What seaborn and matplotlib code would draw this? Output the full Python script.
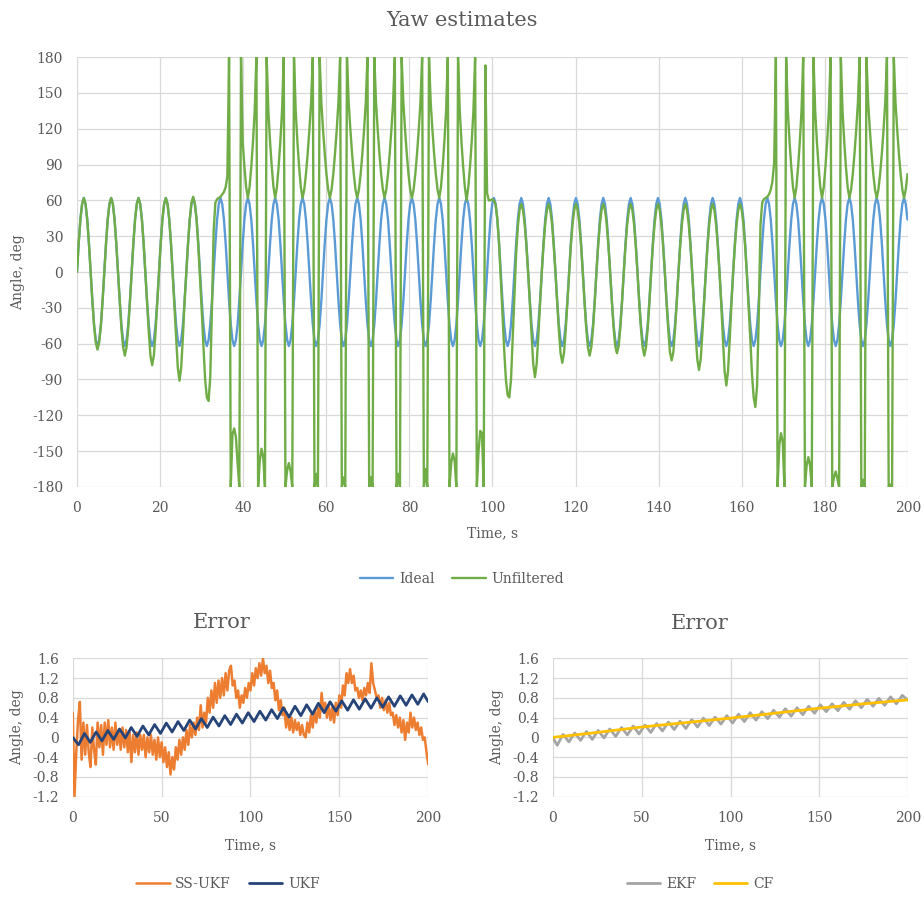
import numpy as np
import matplotlib
matplotlib.use("Agg")
import matplotlib.pyplot as plt
import seaborn as sns

# -------------------------------
# Data
# -------------------------------
period = 6.58            # s, one yaw oscillation
step = period / 16       # 16 samples per oscillation

# ideal yaw, one oscillation (deg)
ideal_cycle = [0, 24, 44, 57, 62, 57, 44, 24, 0, -24, -44, -57, -62, -57, -44, -24]

# unfiltered yaw, one row per oscillation (deg), wrapped to +-180
unfiltered_rows = [
    [0, 24, 44, 57, 62, 57, 44, 24, 0, -24, -45, -59, -65, -59, -45, -24],
    [0, 24, 44, 57, 62, 57, 44, 24, 0, -25, -47, -63, -70, -63, -47, -25],
    [0, 24, 44, 57, 62, 57, 44, 24, 0, -25, -50, -70, -78, -70, -50, -25],
    [0, 24, 44, 57, 62, 57, 44, 24, -2, -28, -55, -80, -91, -80, -54, -24],
    [0, 24, 44, 58, 63, 57, 44, 22, -5, -32, -62, -90, -105, -108, -88, -30],
    [35, 58, 61, 62, 63, 65, 67, 71, 80, 180, -180, -136, -131, -138, -160, -180],
    [180, 109, 88, 71, 62, 71, 88, 109, 135, 180, -180, -158, -148, -155, -180, 180],
    [135, 109, 88, 71, 62, 71, 88, 109, 135, 180, -180, -166, -160, -167, -180, 180],
    [135, 109, 88, 71, 62, 69, 82, 99, 119, 142, 180, -180, -169, -180, 180, 142],
    [119, 99, 82, 69, 62, 69, 82, 99, 119, 142, 180, -180, -172, -180, 180, 142],
    [119, 99, 82, 69, 62, 69, 82, 99, 119, 142, 180, -180, -172, -180, 180, 142],
    [119, 99, 82, 69, 62, 69, 82, 99, 119, 142, 180, -180, -169, -180, 180, 142],
    [119, 99, 82, 69, 62, 69, 82, 99, 119, 142, 180, -180, -165, -180, 180, 142],
    [119, 99, 82, 69, 62, 71, 88, 109, 135, 180, -180, -160, -152, -158, -180, 180],
    [135, 109, 88, 71, 60, 71, 88, 109, 135, 180, -180, -150, -133, -135, -180, 173],
    [66, 60, 60, 61, 60, 56, 44, 24, -5, -35, -65, -90, -103, -105, -90, -55],
    [-18, 15, 38, 52, 57, 52, 40, 22, 0, -26, -53, -77, -88, -77, -53, -26],
    [0, 22, 40, 52, 57, 52, 40, 22, 0, -25, -49, -68, -76, -68, -49, -25],
    [0, 22, 40, 52, 57, 52, 40, 22, 0, -25, -47, -63, -70, -63, -47, -25],
    [0, 22, 40, 52, 57, 52, 40, 22, 0, -24, -46, -62, -68, -62, -46, -24],
    [0, 22, 40, 52, 57, 52, 40, 22, 0, -25, -47, -63, -70, -63, -47, -25],
    [0, 22, 40, 52, 57, 52, 40, 22, 0, -25, -48, -67, -74, -67, -48, -25],
    [0, 22, 40, 52, 57, 52, 40, 22, 0, -25, -51, -73, -82, -73, -51, -25],
    [0, 22, 40, 52, 57, 52, 40, 22, 0, -26, -56, -83, -95, -83, -56, -26],
    [0, 22, 40, 52, 57, 52, 40, 22, -2, -28, -55, -85, -105, -113, -95, -35],
    [40, 58, 61, 62, 63, 65, 69, 76, 92, 180, -180, -145, -135, -142, -180, 180],
    [135, 109, 88, 71, 62, 71, 88, 109, 135, 180, -180, -162, -155, -162, -180, 180],
    [135, 109, 88, 71, 62, 71, 88, 109, 135, 180, -180, -172, -167, -173, -180, 180],
    [135, 109, 88, 71, 62, 69, 82, 99, 119, 142, 180, -180, -174, -180, 180, 142],
    [119, 99, 82, 69, 62, 69, 82, 99, 119, 142, 180, -180, -178, -180, 180, 142],
    [119, 99, 82, 69, 62, 69, 82],
]

# SS-UKF error, one value per second (deg)
ss_ukf = [
    0.50, -1.20, -0.30, 0.35, 0.72, -0.45, 0.30, -0.35, 0.25, -0.30,
    -0.60, 0.20, -0.25, -0.55, 0.30, -0.20, 0.25, -0.35, 0.30, -0.15,
    0.35, -0.20, 0.20, -0.25, 0.30, -0.15, 0.15, -0.25, 0.20, -0.20,
    0.15, -0.30, 0.10, -0.50, 0.05, -0.30, 0.10, -0.35, 0.05, -0.25,
    0.05, -0.40, 0.00, -0.30, 0.05, -0.35, -0.05, -0.45, 0.00, -0.40,
    -0.10, -0.50, -0.20, -0.60, -0.30, -0.75, -0.40, -0.65, -0.20, -0.45,
    -0.05, -0.35, 0.00, -0.25, 0.15, -0.15, 0.25, 0.00, 0.30, 0.05,
    0.40, 0.15, 0.65, 0.20, 0.50, 0.30, 0.80, 0.50, 0.95, 0.60,
    1.10, 0.70, 1.15, 0.80, 1.20, 0.85, 1.30, 0.95, 1.35, 1.45,
    1.05, 1.15, 0.80, 0.95, 0.60, 0.85, 0.70, 1.00, 0.80, 1.10,
    0.95, 1.30, 1.05, 1.40, 1.20, 1.50, 1.25, 1.60, 1.30, 1.45,
    1.10, 1.35, 1.00, 1.10, 0.75, 0.95, 0.55, 0.75, 0.45, 0.60,
    0.20, 0.45, 0.15, 0.40, 0.10, 0.35, 0.15, 0.30, 0.05, 0.25,
    0.05, 0.00, 0.30, 0.10, 0.45, 0.20, 0.55, 0.30, 0.60, 0.40,
    0.90, 0.55, 0.70, 0.40, 0.65, 0.35, 0.60, 0.30, 0.70, 0.45,
    0.85, 0.60, 1.05, 0.85, 1.30, 1.10, 1.38, 1.10, 1.25, 0.95,
    1.00, 0.80, 0.95, 0.75, 1.00, 0.85, 1.10, 0.90, 1.50, 1.10,
    0.95, 0.80, 0.85, 0.60, 0.80, 0.55, 0.75, 0.50, 0.70, 0.45,
    0.50, 0.25, 0.45, 0.20, 0.40, 0.10, 0.35, -0.05, 0.30, 0.10,
    0.50, 0.20, 0.40, 0.15, 0.30, 0.05, 0.20, -0.05, 0.00, -0.30,
    -0.55,
]

# UKF error at every half oscillation, last value at t = 200 s
ukf = [
    0.00, -0.15, 0.08, -0.10, 0.11, -0.07, 0.14, -0.04, 0.17, -0.01,
    0.20, 0.02, 0.23, 0.05, 0.26, 0.08, 0.29, 0.11, 0.32, 0.14,
    0.35, 0.17, 0.38, 0.20, 0.41, 0.23, 0.44, 0.26, 0.47, 0.29,
    0.50, 0.32, 0.53, 0.35, 0.56, 0.38, 0.60, 0.41, 0.63, 0.44,
    0.66, 0.47, 0.69, 0.50, 0.72, 0.53, 0.74, 0.55, 0.76, 0.57,
    0.78, 0.59, 0.80, 0.61, 0.82, 0.63, 0.84, 0.65, 0.86, 0.67,
    0.88, 0.72,
]

# EKF error: start, then troughs / peaks every half oscillation, then t = 200 s
ekf = [
    0.00, -0.16, 0.06, -0.09, 0.09, -0.06, 0.12, -0.04, 0.14, -0.01, 0.17,
    0.02, 0.20, 0.05, 0.23, 0.07, 0.25, 0.10, 0.28, 0.13, 0.31,
    0.16, 0.33, 0.18, 0.36, 0.21, 0.39, 0.24, 0.41, 0.27, 0.44,
    0.29, 0.47, 0.32, 0.50, 0.35, 0.52, 0.38, 0.55, 0.41, 0.58,
    0.43, 0.60, 0.46, 0.63, 0.49, 0.66, 0.52, 0.68, 0.54, 0.71,
    0.57, 0.74, 0.60, 0.77, 0.63, 0.79, 0.65, 0.82, 0.68, 0.85,
    0.75,
]

# CF error
cf_time = [0, 25, 50, 75, 100, 125, 150, 175, 200]
cf = [0.00, 0.10, 0.21, 0.30, 0.39, 0.49, 0.59, 0.68, 0.76]

# -------------------------------
# Time axes for the series
# -------------------------------
unfiltered = np.concatenate([np.array(r, dtype=float) for r in unfiltered_rows])
yaw_time = np.arange(len(unfiltered)) * step
ideal = np.tile(ideal_cycle, len(unfiltered_rows))[:len(unfiltered)]

ss_time = np.arange(len(ss_ukf))
ukf_time = np.append(np.arange(len(ukf) - 1) * period / 2, 200)
ekf_time = np.concatenate([[0], 2.5 + np.arange(len(ekf) - 2) * period / 2, [200]])

# -------------------------------
# Style
# -------------------------------
sns.set_theme(style="whitegrid")
plt.rcParams['font.family'] = ['DejaVu Serif']
text_c = '#595959'
grid_c = '#d9d9d9'

fig = plt.figure(figsize=(9.24, 8.98), dpi=100)
fig.patch.set_facecolor('white')
ax_top = fig.add_axes([0.0833, 0.4577, 0.8994, 0.4788])
ax_l = fig.add_axes([0.0787, 0.1128, 0.3848, 0.1541])
ax_r = fig.add_axes([0.5982, 0.1128, 0.3848, 0.1541])


def style_axes(ax, xticks, yticks, ylabels, xlab_y, ylab_x):
    ax.set_facecolor('white')
    ax.set_xlim(xticks[0], xticks[-1])
    ax.set_ylim(yticks[0], yticks[-1])
    ax.set_xticks(xticks)
    ax.set_yticks(yticks)
    ax.set_yticklabels(ylabels)
    ax.tick_params(length=0, labelsize=10, colors=text_c, pad=10)
    ax.grid(True, color=grid_c, linewidth=0.9)
    for s in ax.spines.values():
        s.set_visible(False)
    ax.set_xlabel("Time, s", fontsize=10, color=text_c)
    ax.set_ylabel("Angle, deg", fontsize=10, color=text_c)
    ax.xaxis.set_label_coords(0.5, xlab_y)
    ax.yaxis.set_label_coords(ylab_x, 0.5)


legend_kw = dict(loc='center', ncol=2, frameon=False, fontsize=10, labelcolor=text_c,
                 handlelength=2.4, handletextpad=0.4, columnspacing=1.3)

# Top: yaw estimates
sns.lineplot(x=yaw_time, y=ideal, ax=ax_top, color='#5B9BD5', linewidth=1.7, label='Ideal')
sns.lineplot(x=yaw_time, y=unfiltered, ax=ax_top, color='#70AD47', linewidth=1.7, label='Unfiltered')
style_axes(ax_top, list(range(0, 201, 20)), list(range(-180, 181, 30)),
           [str(v) for v in range(-180, 181, 30)], -0.092, -0.062)
ax_top.legend(bbox_to_anchor=(0.5, 0.3552), bbox_transform=fig.transFigure, **legend_kw)

err_ticks = [-1.2, -0.8, -0.4, 0, 0.4, 0.8, 1.2, 1.6]
err_labels = ['-1.2', '-0.8', '-0.4', '0', '0.4', '0.8', '1.2', '1.6']

# Bottom left: SS-UKF and UKF errors
sns.lineplot(x=ss_time, y=ss_ukf, ax=ax_l, color='#ED7D31', linewidth=1.8, label='SS-UKF')
sns.lineplot(x=ukf_time, y=ukf, ax=ax_l, color='#264478', linewidth=2.0, label='UKF')
style_axes(ax_l, [0, 50, 100, 150, 200], err_ticks, err_labels, -0.30, -0.138)
ax_l.legend(bbox_to_anchor=(0.2468, 0.0156), bbox_transform=fig.transFigure, **legend_kw)

# Bottom right: EKF and CF errors
sns.lineplot(x=ekf_time, y=ekf, ax=ax_r, color='#A5A5A5', linewidth=2.0, label='EKF')
sns.lineplot(x=cf_time, y=cf, ax=ax_r, color='#FFC000', linewidth=2.0, label='CF')
style_axes(ax_r, [0, 50, 100, 150, 200], err_ticks, err_labels, -0.30, -0.138)
ax_r.legend(bbox_to_anchor=(0.7576, 0.0156), bbox_transform=fig.transFigure, **legend_kw)

# Titles
fig.text(0.5, 0.9777, "Yaw estimates", ha='center', va='center', fontsize=15, color=text_c)
fig.text(0.2403, 0.3073, "Error", ha='center', va='center', fontsize=15, color=text_c)
fig.text(0.7576, 0.3060, "Error", ha='center', va='center', fontsize=15, color=text_c)

fig.savefig("out.png", dpi=100)
